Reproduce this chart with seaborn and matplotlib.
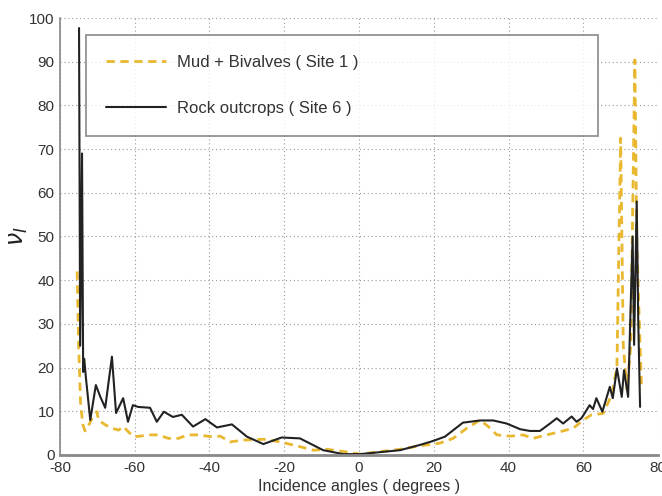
import matplotlib
matplotlib.use("Agg")
import matplotlib.pyplot as plt
import seaborn as sns
import pandas as pd

mud_angle = [-75.4, -75.0, -74.5, -73.9, -73.3, -72.8, -71.4, -70.1, -69.7, -67.9,
             -66.1, -64.3, -63.0, -61.7, -60.3, -58.6, -56.3, -53.7, -51.0, -48.3,
             -45.7, -42.9, -39.8, -37.1, -34.5, -30.9, -25.6, -21.1, -15.8, -12.2,
             -8.6, -4.2, 0.3, 11.0, 16.3, 21.6, 25.2, 28.8, 32.4, 34.6,
             36.9, 40.4, 43.9, 46.6, 50.2, 53.7, 57.3, 60.0, 62.2, 65.3,
             67.6, 69.0, 70.0, 70.7, 71.7, 72.7, 73.8, 74.3, 75.0, 75.6]
mud_value = [42, 25, 12, 7, 5.5, 6, 8.4, 9.9, 8, 6.9,
             6.1, 5.7, 6.5, 5.3, 4.2, 4.3, 4.6, 4.6, 3.8, 3.8,
             4.6, 4.6, 4.2, 4.3, 3.0, 3.4, 3.6, 3.0, 1.9, 1.1,
             1.3, 0.8, 0.2, 1.3, 2.1, 2.7, 3.8, 6.1, 8.0, 6.5,
             4.6, 4.3, 4.6, 3.8, 4.6, 5.3, 6.1, 8.0, 9.2, 9.5,
             13.7, 20, 72.5, 25, 15, 25, 90.4, 50, 30, 14.9]

rock_angle = [-74.9, -74.6, -74.1, -73.8, -73.5, -73.1, -71.9, -70.4, -69.2, -67.9,
              -66.1, -65.0, -63.1, -61.8, -60.5, -59.1, -55.9, -54.1, -52.2, -49.8,
              -47.4, -44.4, -41.1, -38.0, -34.0, -30.0, -25.6, -20.7, -15.8, -9.6,
              -4.2, 0.3, 11.0, 16.3, 19.8, 23.0, 27.8, 32.4, 35.9, 39.5,
              43.1, 45.7, 48.4, 51.1, 52.9, 54.6, 56.9, 58.2, 59.5, 60.4,
              61.7, 62.6, 63.5, 65.1, 67.1, 67.9, 69.0, 70.3, 70.9, 72.0,
              73.2, 73.6, 74.3, 74.7, 75.2]
rock_value = [97.7, 25, 69, 19, 22, 18, 8, 16, 13.3, 10.8,
              22.5, 9.6, 13, 7.6, 11.4, 11, 10.8, 7.6, 9.9, 8.7,
              9.2, 6.5, 8.2, 6.3, 7.0, 4.2, 2.5, 4.0, 3.8, 1.1,
              0.2, 0.2, 1.1, 2.3, 3.2, 4.2, 7.4, 7.9, 7.9, 7.2,
              5.9, 5.5, 5.5, 7.2, 8.4, 7.2, 8.8, 7.6, 8.4, 9.6,
              11.4, 10.5, 13, 9.9, 15.6, 13, 19.8, 13.3, 19.4, 13.3,
              50, 25.2, 58, 31, 11]

label_mud = "Mud + Bivalves ( Site 1 )"
label_rock = "Rock outcrops ( Site 6 )"
x_ticks = [-80, -60, -40, -20, 0, 20, 40, 60, 80]
y_ticks = [0, 10, 20, 30, 40, 50, 60, 70, 80, 90, 100]

sns.set_theme(style="white")
plt.rcParams['font.family'] = ['Liberation Sans', 'DejaVu Sans']
plt.rcParams['axes.unicode_minus'] = False

fig = plt.figure(figsize=(6.62, 4.96), dpi=100)
ax = fig.add_axes([0.0906, 0.0827, 0.9034, 0.881])

df_mud = pd.DataFrame({"angle": mud_angle, "value": mud_value})
df_rock = pd.DataFrame({"angle": rock_angle, "value": rock_value})

sns.lineplot(data=df_mud, x="angle", y="value", ax=ax, color="#E8B830",
             linewidth=2.0, estimator=None, sort=False, label=label_mud)
ax.lines[-1].set_linestyle((0, (3, 2)))
sns.lineplot(data=df_rock, x="angle", y="value", ax=ax, color="#222222",
             linewidth=1.5, estimator=None, sort=False, label=label_rock)

ax.set_xlim(-80, 80)
ax.set_ylim(0, 100)
ax.set_xticks(x_ticks)
ax.set_yticks(y_ticks)
ax.grid(True, linestyle=(0, (1, 2.5)), color="#999999", linewidth=0.8)
ax.tick_params(axis="both", direction="in", length=4, color="#666666",
               labelsize=11, labelcolor="#333333", pad=4)
for side in ["top", "right"]:
    ax.spines[side].set_visible(False)
for side in ["left", "bottom"]:
    ax.spines[side].set_color("#888888")
ax.spines["bottom"].set_linewidth(2)
ax.spines["left"].set_linewidth(1.2)

ax.set_xlabel("Incidence angles ( degrees )", fontsize=11.5, color="#333333", labelpad=3)
ax.set_ylabel(r"$\nu_I$", fontsize=17, color="#222222", labelpad=-1)

leg = ax.legend(loc="upper left", bbox_to_anchor=(0.043, 0.5, 0.857, 0.461),
                mode="expand", frameon=True, fancybox=False, edgecolor="#777777",
                fontsize=12, handlelength=3.6, handletextpad=0.7,
                labelspacing=1.85, borderpad=1.2, borderaxespad=0)
leg.get_frame().set_linewidth(1.3)
for t in leg.get_texts():
    t.set_color("#333333")

fig.savefig("out.png", dpi=100)
